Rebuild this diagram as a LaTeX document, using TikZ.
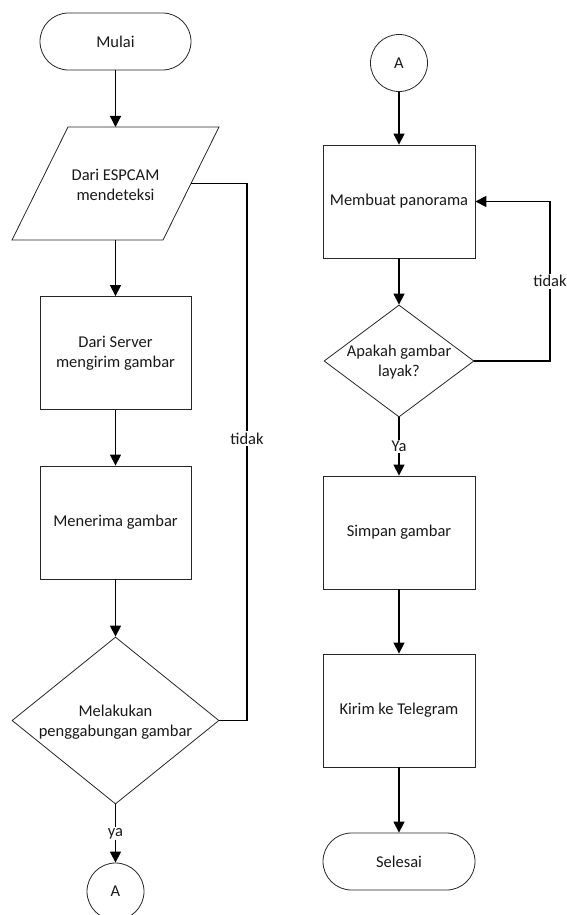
\documentclass[tikz,border=0pt]{standalone}
\usepackage{fontspec}
\setmainfont{Carlito}
\usetikzlibrary{shapes.geometric,arrows.meta}
\newcommand\flowfont{\fontsize{16.5pt}{20pt}\selectfont}
\begin{document}
\begin{tikzpicture}[x=1pt,y=-1pt,
  shapeline/.style={draw=black!85, line width=0.8pt},
  box/.style={shapeline, rectangle, minimum width=151pt, minimum height=113pt, inner sep=0pt, align=center, font=\flowfont, text=black!90},
  term/.style={box, rounded corners=28.5pt, minimum height=57pt},
  conn/.style={circle, shapeline, minimum size=57pt, inner sep=0pt, font=\flowfont, text=black!90},
  dia/.style={diamond, shapeline, inner sep=0pt},
  txt/.style={align=center, font=\flowfont, text=black!90, inner sep=0pt},
  arr/.style={line width=1.3pt, -{Triangle[length=11pt,width=11pt]}},
  plain/.style={line width=1.3pt},
  lbl/.style={fill=white, inner sep=1.5pt, font=\flowfont, text=black!90}]
\useasboundingbox (0,0) rectangle (566,915);
% left column
\node[term] (start) at (115.5,41.5) {Mulai};
\draw[shapeline] (68,127) -- (219,127) -- (163,240) -- (12,240) -- cycle;
\node[txt] (io) at (115.5,185) {Dari ESPCAM\\mendeteksi};
\coordinate (ioN) at (115.5,127);
\coordinate (ioS) at (115.5,240);
\coordinate (ioE) at (191,183.5);
\node[box] (r1) at (115.5,353) {Dari Server\\mengirim gambar};
\node[box] (r2) at (115.5,522.5) {Menerima gambar};
\node[dia, minimum width=207pt, minimum height=167pt] (d1) at (115.5,720.5) {};
\node[txt] (d1t) at (115.5,722) {Melakukan\\penggabungan gambar};
\node[conn] (c1) at (115.5,891.5) {A};
% right column
\node[conn] (c2) at (399,63) {A};
\node[box, minimum width=152pt] (r3) at (399,201.5) {Membuat panorama};
\node[dia, minimum width=150pt, minimum height=112pt] (d2) at (399,361) {};
\node[txt] (d2t) at (399,362) {Apakah gambar\\layak?};
\node[box, minimum width=152pt] (r4) at (399,532.5) {Simpan gambar};
\node[box, minimum width=152pt] (r5) at (399,710.5) {Kirim ke Telegram};
\node[term, minimum width=152pt] (end) at (399,861.5) {Selesai};
% connectors left
\draw[arr] (start) -- (ioN);
\draw[arr] (ioS) -- (r1);
\draw[arr] (r1) -- (r2);
\draw[arr] (r2) -- (d1);
\coordinate (lk) at (247,183.5);
\draw[plain] (ioE) -- (lk) -- node[lbl, pos=0.475] {tidak} (lk |- d1.east) -- (d1.east);
\draw[arr] (d1) -- node[lbl] {ya} (c1);
% connectors right
\draw[arr] (c2) -- (r3);
\draw[arr] (r3) -- (d2);
\draw[arr] (d2) -- node[lbl] {Ya} (r4);
\draw[arr] (r4) -- (r5);
\draw[arr] (r5) -- (end);
\coordinate (rk) at (550,361);
\draw[arr] (d2.east) -- (rk) -- node[lbl] {tidak} (rk |- r3.east) -- (r3.east);
\end{tikzpicture}
\end{document}
